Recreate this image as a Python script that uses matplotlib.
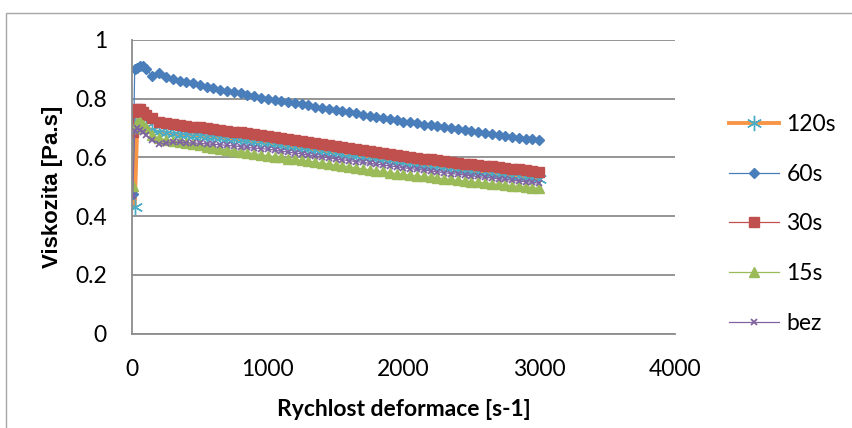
import matplotlib
matplotlib.use('Agg')
import matplotlib.pyplot as plt
from matplotlib.patches import Rectangle

plt.rcParams['font.family'] = ['Lato', 'DejaVu Sans']

# shear rate [s-1]
rate = [5, 20, 40, 60, 80, 100, 150, 200, 250,
        300, 350, 400, 450, 500, 550, 600, 650, 700, 750,
        800, 850, 900, 950, 1000, 1050, 1100, 1150, 1200, 1250,
        1300, 1350, 1400, 1450, 1500, 1550, 1600, 1650, 1700, 1750,
        1800, 1850, 1900, 1950, 2000, 2050, 2100, 2150, 2200, 2250,
        2300, 2350, 2400, 2450, 2500, 2550, 2600, 2650, 2700, 2750,
        2800, 2850, 2900, 2950, 3000]

visc_120 = [.735, .431, .725, .720, .712, .703, .692, .686, .683,
            .680, .678, .676, .674, .672, .670, .668, .666, .663, .661,
            .658, .656, .653, .651, .648, .645, .642, .638, .635, .632,
            .629, .626, .622, .619, .616, .613, .610, .606, .603, .600,
            .597, .594, .590, .587, .584, .581, .578, .575, .572, .569,
            .566, .563, .560, .557, .554, .551, .549, .546, .543, .540,
            .538, .535, .532, .530, .527]

visc_60 = [.475, .902, .906, .913, .910, .900, .879, .887, .874,
           .868, .862, .857, .852, .847, .841, .836, .831, .827, .822,
           .818, .813, .809, .804, .800, .796, .792, .788, .785, .781,
           .777, .773, .770, .766, .762, .758, .754, .750, .746, .742,
           .738, .734, .730, .726, .722, .719, .716, .712, .709, .706,
           .703, .699, .696, .693, .690, .687, .684, .680, .677, .674,
           .671, .667, .664, .661, .658]

visc_30 = [.686, .755, .766, .766, .756, .745, .735, .720, .716,
           .713, .710, .708, .705, .702, .700, .697, .694, .691, .688,
           .686, .683, .680, .677, .674, .670, .667, .663, .660, .656,
           .652, .649, .645, .642, .638, .635, .631, .628, .624, .621,
           .618, .614, .611, .607, .604, .601, .598, .596, .593, .590,
           .587, .584, .582, .579, .576, .574, .571, .569, .566, .564,
           .561, .559, .556, .554, .551]

visc_15 = [.502, .700, .718, .722, .712, .700, .676, .665, .660,
           .657, .653, .649, .645, .641, .637, .633, .630, .626, .623,
           .620, .616, .613, .609, .606, .603, .600, .596, .593, .590,
           .587, .584, .580, .577, .574, .571, .568, .564, .561, .558,
           .555, .552, .548, .545, .542, .540, .537, .535, .532, .530,
           .527, .525, .522, .520, .517, .515, .513, .510, .508, .506,
           .504, .502, .499, .497, .495]

visc_bez = [.468, .690, .700, .694, .685, .676, .660, .645, .648,
            .652, .651, .650, .649, .648, .646, .645, .643, .641, .639,
            .637, .634, .632, .630, .628, .625, .621, .618, .615, .612,
            .608, .605, .602, .598, .595, .592, .589, .586, .583, .580,
            .577, .574, .571, .568, .565, .562, .559, .557, .554, .551,
            .548, .545, .543, .540, .537, .535, .532, .530, .527, .525,
            .522, .520, .517, .515, .512]

grid_col = '#8c8c8c'

fig = plt.figure(figsize=(8.53, 4.28), dpi=100)
fig.patch.set_facecolor('white')

# chart area border (cropped at right/bottom like the original)
fig.patches.append(Rectangle((6 / 853, -0.05), 1.2, 1 - 12.5 / 428 + 0.05,
                             transform=fig.transFigure, fill=False,
                             edgecolor='#a6a6a6', linewidth=1.0))

ax = fig.add_axes([132 / 853, 1 - 333.5 / 428, 543 / 853, 293.5 / 428])

ax.plot(rate, visc_120, color='#F79646', linewidth=2.8, marker=(6, 2, 0),
        markersize=11, markeredgecolor='#4BACC6', markerfacecolor='#4BACC6',
        markeredgewidth=1.0, label='120s')
ax.plot(rate, visc_60, color='#4A7EBB', linewidth=0.9, marker='D',
        markersize=5, markeredgecolor='#4A7EBB', markerfacecolor='#4A7EBB',
        label='60s')
ax.plot(rate, visc_30, color='#C0504D', linewidth=0.9, marker='s',
        markersize=6.5, markeredgecolor='#C0504D', markerfacecolor='#C0504D',
        label='30s')
ax.plot(rate, visc_15, color='#9BBB59', linewidth=0.9, marker='^',
        markersize=6.5, markeredgecolor='#9BBB59', markerfacecolor='#9BBB59',
        label='15s')
ax.plot(rate, visc_bez, color='#8064A2', linewidth=0.9, marker='x',
        markersize=5, markeredgecolor='#8064A2', markeredgewidth=1.3,
        label='bez')

ax.set_xlim(0, 4000)
ax.set_ylim(0, 1)
ax.set_xticks([0, 1000, 2000, 3000, 4000])
ax.set_yticks([0, 0.2, 0.4, 0.6, 0.8, 1.0])
ax.set_yticklabels(['0', '0.2', '0.4', '0.6', '0.8', '1'])
ax.tick_params(length=0, labelsize=16.5, colors='black')
ax.tick_params(axis='y', pad=18)
ax.tick_params(axis='x', pad=18)

ax.yaxis.grid(True, color=grid_col, linewidth=1.3)
ax.set_axisbelow(True)
for s in ['top', 'right']:
    ax.spines[s].set_visible(False)
for s in ['left', 'bottom']:
    ax.spines[s].set_color(grid_col)
    ax.spines[s].set_linewidth(1.3)

ax.set_xlabel('Rychlost deformace [s-1]', fontsize=16.5, fontweight='bold')
ax.set_ylabel('Viskozita [Pa.s]', fontsize=16, fontweight='bold',
              family=['Liberation Sans', 'DejaVu Sans'])
ax.xaxis.set_label_coords(0.5, (333.5 - 409) / 293.5)
ax.yaxis.set_label_coords((52 - 132) / 543, 0.5)
ax.xaxis.label.set_va('center')
ax.yaxis.label.set_va('center')

leg = ax.legend(loc='upper left', bbox_to_anchor=(729 / 853, 1 - 114 / 428),
                bbox_transform=fig.transFigure, frameon=False, fontsize=16.5,
                handlelength=2.2, handletextpad=0.3, labelspacing=1.25,
                borderpad=0, borderaxespad=0)

fig.savefig('out.png', dpi=100, facecolor='white')
